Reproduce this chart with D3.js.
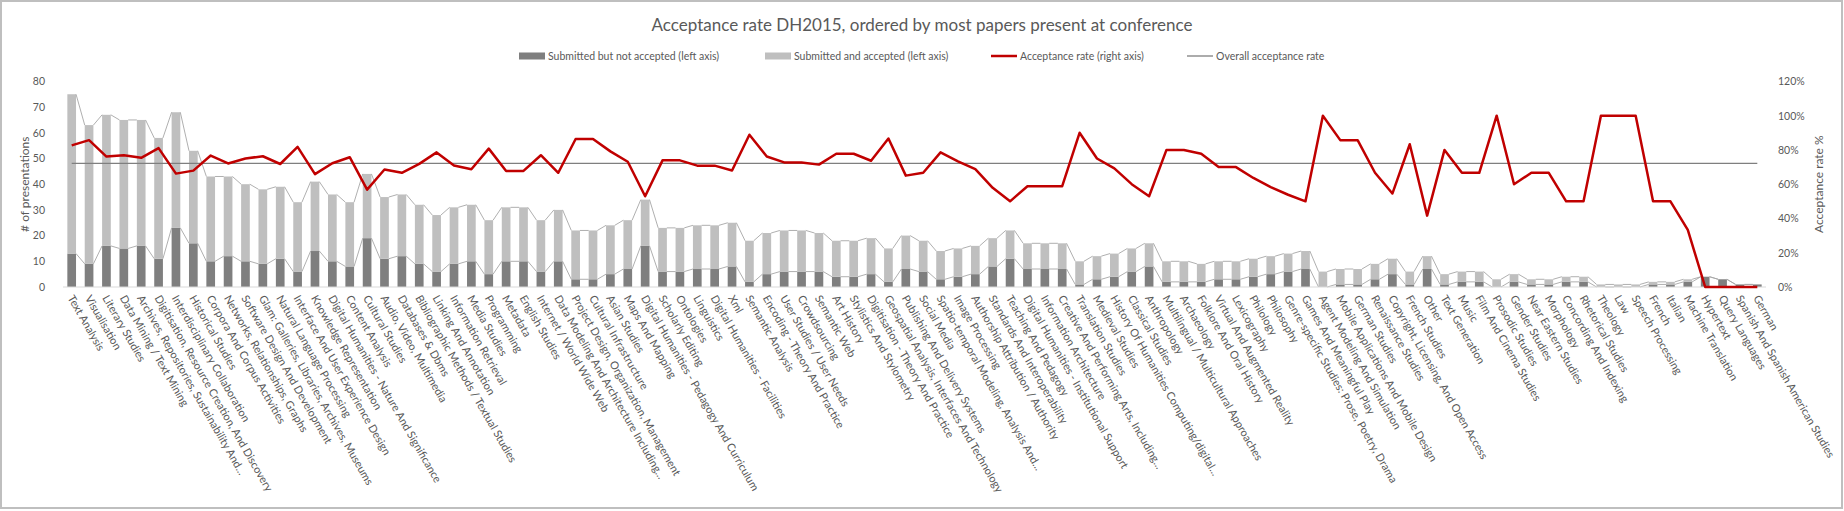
<!DOCTYPE html>
<html>
<head>
<script src="https://d3js.org/d3.v7.min.js"></script>
<style>
    body { margin: 0; background: #fff; }
    text { font-family: Lato, "Open Sans", sans-serif; fill: #595959; }
</style>
</head>
<body>
<script>

// categories, ordered by accepted papers
var categories = [
    "Text Analysis", "Visualisation", "Literary Studies", "Data Mining / Text Mining",
    "Archives, Repositories, Sustainability And...", "Digitisation, Resource Creation, And Discovery",
    "Interdisciplinary Collaboration", "Historical Studies", "Corpora And Corpus Activities",
    "Networks, Relationships, Graphs", "Software Design And Development",
    "Glam: Galleries, Libraries, Archives, Museums", "Natural Language Processing",
    "Interface And User Experience Design", "Knowledge Representation",
    "Digital Humanities - Nature And Significance", "Content Analysis", "Cultural Studies",
    "Audio, Video, Multimedia", "Databases & Dbms", "Bibliographic Methods / Textual Studies",
    "Linking And Annotation", "Information Retrieval", "Media Studies", "Programming", "Metadata",
    "English Studies", "Internet / World Wide Web", "Data Modeling And Architecture Including...",
    "Project Design, Organization, Management", "Cultural Infrastructure", "Asian Studies",
    "Maps And Mapping", "Digital Humanities - Pedagogy And Curriculum", "Scholarly Editing",
    "Ontologies", "Linguistics", "Digital Humanities - Facilities", "Xml", "Semantic Analysis",
    "Encoding - Theory And Practice", "User Studies / User Needs", "Crowdsourcing", "Semantic Web",
    "Art History", "Stylistics And Stylometry", "Digitisation - Theory And Practice",
    "Geospatial Analysis, Interfaces And Technology", "Publishing And Delivery Systems",
    "Social Media", "Spatio-temporal Modeling, Analysis And...", "Image Processing",
    "Authorship Attribution / Authority", "Standards And Interoperability", "Teaching And Pedagogy",
    "Digital Humanities - Institutional Support", "Information Architecture",
    "Creative And Performing Arts, Including...", "Translation Studies", "Medieval Studies",
    "History Of Humanities Computing/digital...", "Classical Studies", "Anthropology",
    "Multilingual / Multicultural Approaches", "Archaeology", "Folklore And Oral History",
    "Virtual And Augmented Reality", "Lexicography", "Philology", "Philosophy",
    "Genre-specific Studies: Prose, Poetry, Drama", "Games And Meaningful Play",
    "Agent Modeling And Simulation", "Mobile Applications And Mobile Design", "German Studies",
    "Renaissance Studies", "Copyright, Licensing, And Open Access", "French Studies", "Other",
    "Text Generation", "Music", "Film And Cinema Studies", "Prosodic Studies", "Gender Studies",
    "Near Eastern Studies", "Morphology", "Concording And Indexing", "Rhetorical Studies",
    "Theology", "Law", "Speech Processing", "French", "Italian", "Machine Translation",
    "Hypertext", "Query Languages", "Spanish And Spanish American Studies", "German"
];

// submitted but not accepted
var rejected = [
    13, 9, 16, 15, 16, 11, 23, 17, 10, 12,
    10, 9, 11, 6, 14, 10, 8, 19, 11, 12,
    9, 6, 9, 10, 5, 10, 10, 6, 10, 3,
    3, 5, 7, 16, 6, 6, 7, 7, 8, 2,
    5, 6, 6, 6, 4, 4, 5, 2, 7, 6,
    3, 4, 5, 8, 11, 7, 7, 7, 1, 3,
    4, 6, 8, 2, 2, 2, 3, 3, 4, 5,
    6, 7, 0, 1, 1, 3, 5, 1, 7, 1,
    2, 2, 0, 2, 1, 1, 2, 2, 0, 0,
    0, 1, 1, 2, 4, 3, 1, 1
];

// submitted and accepted
var accepted = [
    62, 54, 51, 50, 49, 47, 45, 36, 33, 31,
    30, 29, 28, 27, 27, 26, 25, 25, 24, 24,
    23, 22, 22, 22, 21, 21, 21, 20, 20, 19,
    19, 19, 19, 18, 17, 17, 17, 17, 17, 16,
    16, 16, 16, 15, 14, 14, 14, 13, 13, 12,
    11, 11, 11, 11, 11, 10, 10, 10, 9, 9,
    9, 9, 9, 8, 8, 7, 7, 7, 7, 7,
    7, 7, 6, 6, 6, 6, 6, 5, 5, 4,
    4, 4, 3, 3, 2, 2, 2, 2, 1, 1,
    1, 1, 1, 1, 0, 0, 0, 0
];

var overallRate = 0.722;

var leftTicks = [0, 10, 20, 30, 40, 50, 60, 70, 80];
var rightTicks = [0, 0.2, 0.4, 0.6, 0.8, 1.0, 1.2];

var w = 1844;
var h = 511;
var plotLeft = 63, plotRight = 1766, plotTop = 81.4, plotBottom = 287;

var rows = categories.map(function(c, i) {
    return {
        name: c,
        rej: rejected[i],
        acc: accepted[i],
        total: rejected[i] + accepted[i],
        rate: accepted[i] / (rejected[i] + accepted[i])
    };
});

var svg = d3.select("body")
    .append("svg")
    .attr("width", w)
    .attr("height", h);

// chart border
svg.append("rect")
    .attr("x", 1).attr("y", 1)
    .attr("width", w - 3).attr("height", h - 4)
    .attr("fill", "none")
    .attr("stroke", "#bfbfbf")
    .attr("stroke-width", 2);

var x = d3.scaleBand()
    .domain(categories)
    .range([plotLeft, plotRight])
    .paddingInner(0.5)
    .paddingOuter(0.25);

var yL = d3.scaleLinear().domain([0, 80]).range([plotBottom, plotTop]);
var yR = d3.scaleLinear().domain([0, 1.2]).range([plotBottom, plotTop]);

var bw = x.bandwidth();
var cx = function(d) { return x(d.name) + bw / 2; };

// stacked bars
svg.append("g").selectAll("rect")
    .data(rows)
    .enter()
    .append("rect")
    .attr("x", function(d) { return x(d.name); })
    .attr("y", function(d) { return yL(d.rej); })
    .attr("width", bw)
    .attr("height", function(d) { return yL(0) - yL(d.rej); })
    .attr("fill", "#7f7f7f");

svg.append("g").selectAll("rect")
    .data(rows)
    .enter()
    .append("rect")
    .attr("x", function(d) { return x(d.name); })
    .attr("y", function(d) { return yL(d.total); })
    .attr("width", bw)
    .attr("height", function(d) { return yL(d.rej) - yL(d.total); })
    .attr("fill", "#bfbfbf");

// series lines between stacks
var pairs = d3.pairs(rows);
["rej", "total"].forEach(function(key) {
    svg.append("g").selectAll("line")
        .data(pairs)
        .enter()
        .append("line")
        .attr("x1", function(p) { return x(p[0].name) + bw; })
        .attr("x2", function(p) { return x(p[1].name); })
        .attr("y1", function(p) { return yL(p[0][key]); })
        .attr("y2", function(p) { return yL(p[1][key]); })
        .attr("stroke", "#a6a6a6")
        .attr("stroke-width", 0.9);
});

// baseline
svg.append("line")
    .attr("x1", plotLeft).attr("x2", plotRight)
    .attr("y1", plotBottom).attr("y2", plotBottom)
    .attr("stroke", "#d9d9d9")
    .attr("stroke-width", 1);

// overall acceptance rate
svg.append("line")
    .attr("x1", cx(rows[0])).attr("x2", cx(rows[rows.length - 1]))
    .attr("y1", yR(overallRate)).attr("y2", yR(overallRate))
    .attr("stroke", "#7f7f7f")
    .attr("stroke-width", 1.3);

// acceptance rate line
var line = d3.line()
    .x(cx)
    .y(function(d) { return yR(d.rate); });

svg.append("path")
    .datum(rows)
    .attr("d", line)
    .attr("fill", "none")
    .attr("stroke", "#c00000")
    .attr("stroke-width", 2.5)
    .attr("stroke-linejoin", "round");

// left axis
var axL = svg.append("g")
    .attr("transform", "translate(45,0)")
    .call(d3.axisLeft(yL).tickValues(leftTicks).tickSize(0).tickPadding(0));
axL.select(".domain").remove();
axL.selectAll("text").style("font-size", "10.5px").attr("fill", "#595959");

// right axis
var axR = svg.append("g")
    .attr("transform", "translate(1778,0)")
    .call(d3.axisRight(yR).tickValues(rightTicks).tickSize(0).tickPadding(0)
        .tickFormat(d3.format(".0%")));
axR.select(".domain").remove();
axR.selectAll("text").style("font-size", "10.5px").attr("fill", "#595959");

// category labels
svg.append("g").selectAll("text")
    .data(rows)
    .enter()
    .append("text")
    .attr("transform", function(d) { return "translate(" + (cx(d) - 1) + ",296) rotate(60)"; })
    .attr("dy", "0.35em")
    .style("font-size", "11px")
    .text(function(d) { return d.name; });

// axis titles
svg.append("text")
    .attr("transform", "translate(25," + ((plotTop + plotBottom) / 2) + ") rotate(-90)")
    .attr("text-anchor", "middle")
    .attr("dy", "0.35em")
    .style("font-size", "12px")
    .text("# of presentations");

svg.append("text")
    .attr("transform", "translate(1819," + ((plotTop + plotBottom) / 2) + ") rotate(-90)")
    .attr("text-anchor", "middle")
    .attr("dy", "0.35em")
    .style("font-size", "12px")
    .text("Acceptance rate %");

// title
svg.append("text")
    .attr("x", w / 2)
    .attr("y", 25)
    .attr("dy", "0.35em")
    .attr("text-anchor", "middle")
    .style("font-size", "17px")
    .text("Acceptance rate DH2015, ordered by most papers present at conference");

// legend
var legend = [
    { label: "Submitted but not accepted (left axis)", type: "rect", color: "#7f7f7f", x: 519 },
    { label: "Submitted and accepted (left axis)", type: "rect", color: "#bfbfbf", x: 765 },
    { label: "Acceptance rate (right axis)", type: "line", color: "#c00000", x: 991 },
    { label: "Overall acceptance rate", type: "line", color: "#7f7f7f", x: 1187 }
];
var ly = 56;
var lg = svg.append("g").selectAll("g")
    .data(legend)
    .enter()
    .append("g")
    .attr("transform", function(d) { return "translate(" + d.x + "," + ly + ")"; });

lg.filter(function(d) { return d.type == "rect"; })
    .append("rect")
    .attr("x", 0).attr("y", -3.5)
    .attr("width", 26).attr("height", 7)
    .attr("fill", function(d) { return d.color; });

lg.filter(function(d) { return d.type == "line"; })
    .append("line")
    .attr("x1", 0).attr("x2", 26)
    .attr("y1", 0).attr("y2", 0)
    .attr("stroke", function(d) { return d.color; })
    .attr("stroke-width", function(d) { return d.color == "#c00000" ? 2.5 : 1.3; });

lg.append("text")
    .attr("x", 29)
    .attr("dy", "0.35em")
    .style("font-size", "10.5px")
    .text(function(d) { return d.label; });

</script>
</body>
</html>
